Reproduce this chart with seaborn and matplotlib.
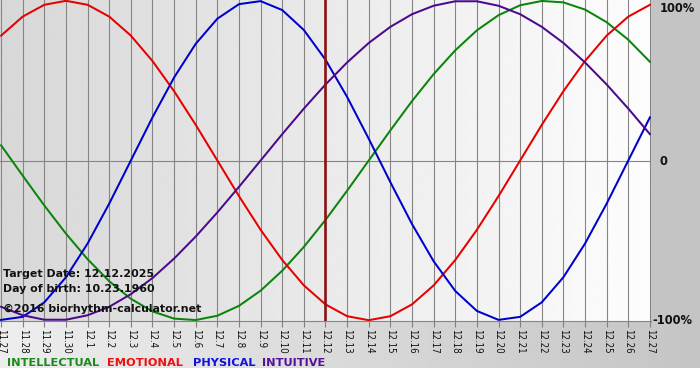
import numpy as np
import pandas as pd
import matplotlib
matplotlib.use("Agg")
import matplotlib.pyplot as plt
import seaborn as sns

# ---- data ----
dates = ["11.27", "11.28", "11.29", "11.30", "12.1", "12.2", "12.3", "12.4", "12.5",
         "12.6", "12.7", "12.8", "12.9", "12.10", "12.11", "12.12", "12.13", "12.14",
         "12.15", "12.16", "12.17", "12.18", "12.19", "12.20", "12.21", "12.22", "12.23",
         "12.24", "12.25", "12.26", "12.27"]
physical = [-0.998, -0.979, -0.888, -0.731, -0.520, -0.270, 0.0, 0.270, 0.520, 0.731,
            0.888, 0.979, 0.998, 0.942, 0.817, 0.631, 0.398, 0.136, -0.136, -0.398,
            -0.631, -0.817, -0.942, -0.998, -0.979, -0.888, -0.731, -0.520, -0.270, 0.0, 0.270]
emotional = [0.782, 0.901, 0.975, 1.0, 0.975, 0.901, 0.782, 0.623, 0.434, 0.223, 0.0,
             -0.223, -0.434, -0.623, -0.782, -0.901, -0.975, -1.0, -0.975, -0.901, -0.782,
             -0.623, -0.434, -0.223, 0.0, 0.223, 0.434, 0.623, 0.782, 0.901, 0.975]
intellectual = [0.095, -0.095, -0.282, -0.458, -0.618, -0.756, -0.866, -0.945, -0.990,
                -0.999, -0.972, -0.910, -0.815, -0.690, -0.541, -0.372, -0.189, 0.0, 0.189,
                0.372, 0.541, 0.690, 0.815, 0.910, 0.972, 0.999, 0.990, 0.945, 0.866, 0.756, 0.618]
intuitive = [-0.916, -0.969, -0.997, -0.997, -0.969, -0.916, -0.837, -0.736, -0.614,
             -0.476, -0.325, -0.165, 0.0, 0.165, 0.325, 0.476, 0.614, 0.736, 0.837, 0.916,
             0.969, 0.997, 0.997, 0.969, 0.916, 0.837, 0.736, 0.614, 0.476, 0.325, 0.165]
series_names = ["INTELLECTUAL", "EMOTIONAL", "PHYSICAL", "INTUITIVE"]
target_label = "12.12"
y_ticks = [1.0, 0.0, -1.0]
y_labels = ["100%", "0", "-100%"]
info_lines = ["Target Date: 12.12.2025", "Day of birth: 10.23.1960",
              "\u00a92016 biorhythm-calculator.net"]

colors = {"INTELLECTUAL": "#0a840a", "EMOTIONAL": "#e60000",
          "PHYSICAL": "#0000cc", "INTUITIVE": "#4b0a8c"}
text_colors = {"INTELLECTUAL": "#1a8a1a", "EMOTIONAL": "#ee1111",
               "PHYSICAL": "#1010dd", "INTUITIVE": "#551199"}

idx = list(range(len(dates)))
df = pd.DataFrame({
    "day": idx * 4,
    "value": intellectual + emotional + physical + intuitive,
    "series": sum([[n] * len(dates) for n in series_names], []),
})

W, H = 700, 380
fig = plt.figure(figsize=(W / 100, H / 100), dpi=100)
fig.patch.set_facecolor("white")

# ---- figure background panels ----
bg = fig.add_axes([0, 0, 1, 1], zorder=-5)
bg.axis("off")
grad_b = np.linspace(0.93, 0.77, 256)[None, :]
bg.imshow(grad_b, cmap="gray", vmin=0, vmax=1, extent=[0, W, 368, 321], aspect="auto")
bg.add_patch(plt.Rectangle((651, 0), W - 651, 321, color="#c4c4c4", lw=0))
bg.set_xlim(0, W)
bg.set_ylim(H, 0)

# ---- main axes ----
ax = fig.add_axes([0, 59 / H, 651 / W, 321 / H])
ax.patch.set_alpha(0)
x0, x1 = -0.05, len(dates) - 1 + 0.05
grad = np.linspace(0.845, 0.99, 256)[None, :]
ax.imshow(grad, cmap="gray", vmin=0, vmax=1, extent=[x0, x1, -1.005, 1.005],
          aspect="auto", zorder=0)

for i in idx:
    ax.axvline(i, color="#858585", lw=0.8, zorder=1)
ax.axhline(0, color="#858585", lw=0.8, zorder=1)
ax.axvline(dates.index(target_label), color="#8b1212", lw=1.9, zorder=4)

sns.lineplot(data=df, x="day", y="value", hue="series", hue_order=series_names,
             palette=colors, linewidth=1.45, legend=False, ax=ax, zorder=3)

ax.set_xlim(x0, x1)
ax.set_ylim(-1.005, 1.005)
ax.set_xticks(idx)
ax.set_xticklabels(dates, rotation=270, va="top", ha="center",
                   family="DejaVu Sans", fontstretch="condensed", fontsize=7.0,
                   color="#111111")
ax.tick_params(axis="x", length=4, color="#808080", pad=1.5, width=0.8)
ax.set_yticks([])
ax.set_xlabel("")
ax.set_ylabel("")
for s in ["left", "top", "right"]:
    ax.spines[s].set_visible(False)
ax.spines["bottom"].set_color("#858585")
ax.spines["bottom"].set_linewidth(0.8)

# right side percentage labels
offsets = {"100%": (9, -8), "0": (9, -1), "-100%": (1, 0)}
for v, lab in zip(y_ticks, y_labels):
    ax.annotate(lab, xy=(1, v), xycoords=("axes fraction", "data"),
                xytext=offsets[lab], textcoords="offset pixels",
                ha="left", va="center", fontsize=8.3, fontweight="bold",
                color="#111111", annotation_clip=False)

# info text block
for line, ypix in zip(info_lines, [277, 292, 312]):
    fig.text(3 / W, 1 - ypix / H, line, ha="left", va="baseline", fontsize=7.9,
             fontweight="bold", color="#111111", zorder=2)

# legend row
leg_x = [7, 107, 193, 262]
for name, xp in zip(series_names, leg_x):
    fig.text(xp / W, 1 - 366 / H, name, ha="left", va="baseline", fontsize=8.2,
             fontweight="bold", color=text_colors[name])

fig.savefig("out.png", dpi=100)
